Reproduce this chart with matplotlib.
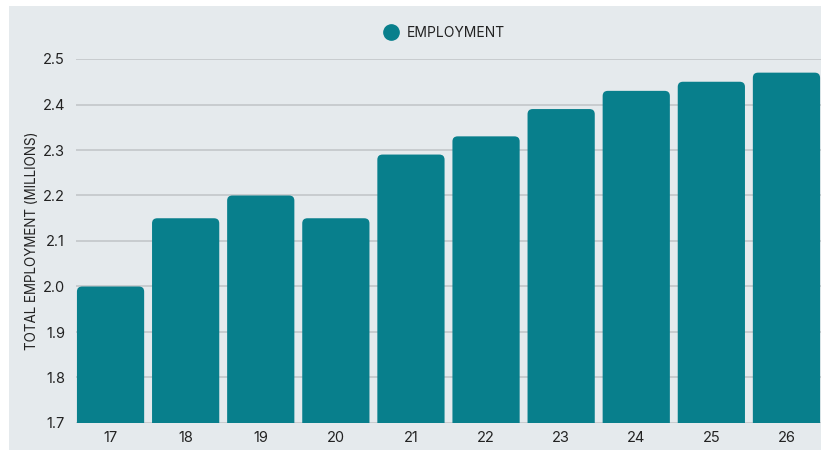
import matplotlib
matplotlib.use('Agg')
import matplotlib.pyplot as plt
from matplotlib.patches import FancyBboxPatch, Rectangle
from matplotlib.lines import Line2D

years = ['17', '18', '19', '20', '21', '22', '23', '24', '25', '26']
employment = [2.00, 2.15, 2.20, 2.15, 2.29, 2.33, 2.39, 2.43, 2.45, 2.47]
yticks = [1.7, 1.8, 1.9, 2.0, 2.1, 2.2, 2.3, 2.4, 2.5]

teal = '#087f8c'
bg = '#e5eaed'
plt.rcParams['font.family'] = ['Inter', 'DejaVu Sans']

fig = plt.figure(figsize=(8.21, 4.51), dpi=100)
fig.patches.append(Rectangle((9/821, 1/451), 1 - 9/821, 1 - 7/451,
                             transform=fig.transFigure, facecolor=bg,
                             edgecolor='none', zorder=-10))
ax = fig.add_axes([76/821, 28/451, 745/821, 364/451])
ax.set_facecolor('none')

x = range(len(years))
bars = ax.bar(x, employment, width=0.895, color=teal)
# swap plain rectangles for ones with rounded tops
for r in bars:
    r.set_visible(False)
    bx, by = r.get_x(), 1.6
    p = FancyBboxPatch((bx, by), r.get_width(), r.get_height() - by,
                       boxstyle='round,pad=0,rounding_size=0.07',
                       mutation_aspect=0.16, facecolor=teal,
                       edgecolor='none', zorder=2)
    ax.add_patch(p)

ax.set_ylim(1.7, 2.5)
ax.set_xlim(-0.46, 9.46)
ax.set_yticks(yticks)
ax.set_yticklabels(['%.1f' % v for v in yticks])
ax.set_xticks(list(x))
ax.set_xticklabels(years)
ax.grid(axis='y', color='#c3c7ca', linewidth=1.2, zorder=1)
ax.set_axisbelow(True)
for s in ax.spines.values():
    s.set_visible(False)
ax.tick_params(length=0, labelsize=10.5, colors='#222222', pad=6)
ax.tick_params(axis='y', pad=8)
ax.set_ylabel('TOTAL EMPLOYMENT (MILLIONS)', fontsize=9.7, color='#222222')
ax.yaxis.set_label_coords(-0.049, 0.5)

handle = Line2D([], [], marker='o', linestyle='none', markersize=11,
                markerfacecolor=teal, markeredgecolor=teal)
fig.legend([handle], ['EMPLOYMENT'], loc='center', frameon=False,
           bbox_to_anchor=(441/821, 1 - 33/451), fontsize=10,
           handletextpad=0.1, labelcolor='#222222')

fig.savefig('out.png', dpi=100)
